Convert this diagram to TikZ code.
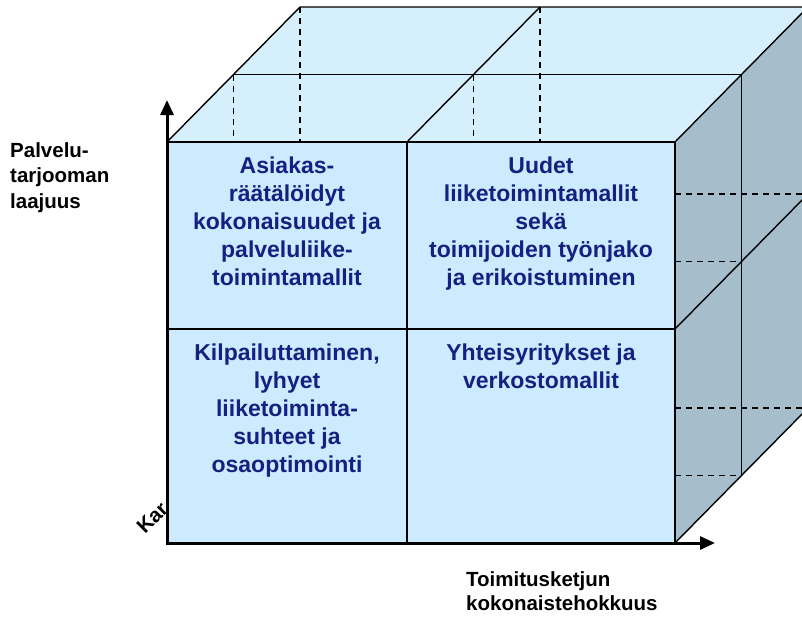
\documentclass[tikz,border=0pt]{standalone}
\usepackage{fontspec}
\setmainfont{Liberation Sans}
\usetikzlibrary{arrows.meta}
\definecolor{frontc}{RGB}{204,235,255}
\definecolor{topc}{RGB}{214,239,253}
\definecolor{sidec}{RGB}{166,189,204}
\definecolor{txtc}{RGB}{22,32,128}
\begin{document}
\begin{tikzpicture}[x=1pt,y=-1pt,
  edge/.style={line width=1.4pt, line join=round},
  hidden/.style={line width=1.5pt, dash pattern=on 6pt off 5pt},
  axis/.style={line width=3pt, {Triangle[width=13pt,length=15pt]}-{Triangle[width=13pt,length=15pt]}},
  celltext/.style={font=\fontsize{23}{28}\selectfont\bfseries, text=txtc, align=center, anchor=north, inner sep=0pt},
  axlabel/.style={font=\fontsize{20.5}{25.5}\selectfont\bfseries, align=left, anchor=north west, inner sep=0pt}]
\useasboundingbox (0,0) rectangle (802,616);
\clip (0,0) rectangle (802,616);
% corners
\coordinate (F1) at (167,142);
\coordinate (F2) at (407,142);
\coordinate (F3) at (675,142);
\coordinate (F4) at (167,329);
\coordinate (F5) at (407,329);
\coordinate (F6) at (675,329);
\coordinate (F7) at (167,543);
\coordinate (F8) at (407,543);
\coordinate (F9) at (675,543);
\coordinate (M1) at (233.5,74.5);
\coordinate (M2) at (473.5,74.5);
\coordinate (M3) at (741.5,74.5);
\coordinate (M6) at (741.5,261.5);
\coordinate (M9) at (741.5,475.5);
\coordinate (B1) at (300,7);
\coordinate (B2) at (540,7);
\coordinate (B3) at (808,7);
\coordinate (B6) at (808,194);
\coordinate (B9) at (808,408);
\coordinate (D1) at (233.5,142);
\coordinate (D2) at (300,142);
\coordinate (D3) at (473.5,142);
\coordinate (D4) at (540,142);
\coordinate (S1) at (675,194);
\coordinate (S2) at (675,261.5);
\coordinate (S3) at (675,408);
\coordinate (S4) at (675,475.5);
\coordinate (AY) at (167,100);
\coordinate (AX) at (715,543);
% hidden depth label
\node[font=\fontsize{20.5}{25}\selectfont\bfseries, rotate=45, anchor=base west, inner sep=0pt] (kar) at (145,535) {Kar};
% faces
\fill[topc] (F1) -- (B1) -- (B3) -- (F3) -- cycle;
\fill[sidec] (F3) -- (B3) -- (B9) -- (F9) -- cycle;
\fill[frontc] (F1) rectangle (F9);
% hidden lines
\draw[hidden] (M1) -- (D1);
\draw[hidden] (B1) -- (D2);
\draw[hidden] (M2) -- (D3);
\draw[hidden] (B2) -- (D4);
\draw[hidden] (S1) -- (B6);
\draw[hidden] (S2) -- (M6);
\draw[hidden] (S3) -- (B9);
\draw[hidden] (S4) -- (M9);
% visible edges
\draw[edge] (F1) -- (B1) -- (B3);
\draw[edge] (M1) -- (M3);
\draw[edge] (F2) -- (B2);
\draw[edge] (F3) -- (B3);
\draw[edge] (M3) -- (M9);
\draw[edge] (F6) -- (B6);
\draw[edge] (F9) -- (B9);
\draw[edge] (F1) rectangle (F9);
\draw[edge] (F2) -- (F8);
\draw[edge] (F4) -- (F6);
% axes
\draw[axis] (AY) -- (F7) -- (AX);
% cell texts
\node[celltext] (c1) at (287,157) {Asiakas-\\räätälöidyt\\kokonaisuudet ja\\palveluliike-\\toimintamallit};
\node[celltext] (c2) at (541,157) {Uudet\\liiketoimintamallit\\sekä\\toimijoiden työnjako\\ja erikoistuminen};
\node[celltext] (c3) at (287,344) {Kilpailuttaminen,\\lyhyet\\liiketoiminta-\\suhteet ja\\osaoptimointi};
\node[celltext] (c4) at (541,344) {Yhteisyritykset ja\\verkostomallit};
% axis labels
\node[axlabel] (ylab) at (10,142) {Palvelu-\\tarjooman\\laajuus};
\node[axlabel, font=\fontsize{20.5}{24}\selectfont\bfseries] (xlab) at (466,571) {Toimitusketjun\\kokonaistehokkuus};
\end{tikzpicture}
\end{document}
